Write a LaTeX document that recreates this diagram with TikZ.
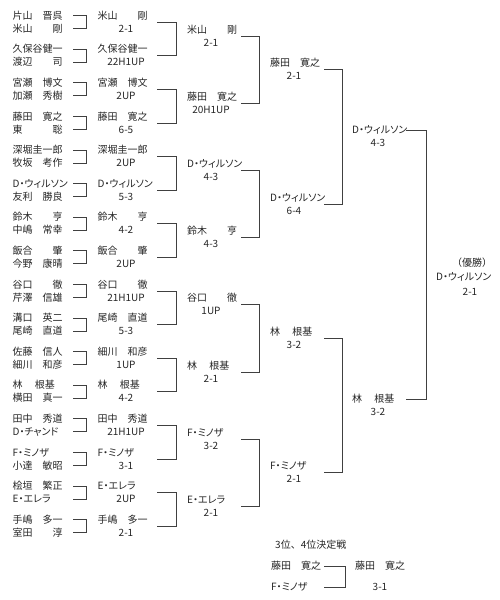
\documentclass[tikz,border=0pt]{standalone}
\usepackage{fontspec}
\setmainfont{Noto Sans CJK JP}
\newfontfamily\kn{Noto Sans CJK JP}[RawFeature=+palt]
\newcommand{\brkt}[4]{\draw[brk] (#1 -| #3,0) -| (#4,0 |- #2) -- (#2 -| #3,0);}
\newcommand{\duel}[4]{\node[nm] (#1a) at (12.5,#2-6.5) {#3};
  \node[nm] (#1b) at (12.5,#2+6.5) {#4};
  \brkt{#1a}{#1b}{73}{86}}
\newcommand{\winner}[6]{\coordinate (#1) at (#2,#3);
  \node[nm] (#1n) at (#2,#3-6.5) {#4};
  \node[sc] (#1s) at (#5,#3+6.5) {#6};}

\begin{document}
\begin{tikzpicture}[x=1pt,y=-1pt,
  every node/.style={font=\fontsize{10}{12}\selectfont, text=black!85},
  nm/.style={anchor=west, inner sep=0pt, text height=.86em, text depth=.1em},
  sc/.style={inner sep=0pt, text height=.86em, text depth=.1em},
  brk/.style={draw=black!75, line width=0.6pt}]
\useasboundingbox (0,0) rectangle (500,600);
\duel{p1}{22}{片山　晋呉}{米山　　剛}
\duel{p2}{55.6}{久保谷健一}{渡辺　　司}
\duel{p3}{89.2}{宮瀬　博文}{加瀬　秀樹}
\duel{p4}{122.8}{藤田　寛之}{東　　　聡}
\duel{p5}{156.4}{深堀圭一郎}{牧坂　考作}
\duel{p6}{190}{{\kn D・ウィルソン}}{友利　勝良}
\duel{p7}{223.6}{鈴木　　亨}{中嶋　常幸}
\duel{p8}{257.2}{飯合　　肇}{今野　康晴}
\duel{p9}{290.8}{谷口　　徹}{芹澤　信雄}
\duel{p10}{324.4}{溝口　英二}{尾崎　直道}
\duel{p11}{358}{佐藤　信人}{細川　和彦}
\duel{p12}{391.6}{林　 根基}{横田　真一}
\duel{p13}{425.2}{田中　秀道}{{\kn D・チャンド}}
\duel{p14}{458.8}{{\kn F・ミノザ}}{小達　敏昭}
\duel{p15}{492.4}{桧垣　繁正}{{\kn E・エレラ}}
\duel{p16}{526}{手嶋　多一}{室田　　淳}
\winner{s1}{97.5}{22}{米山　　剛}{126}{2-1}
\winner{s2}{97.5}{55.6}{久保谷健一}{126}{22H1UP}
\winner{s3}{97.5}{89.2}{宮瀬　博文}{126}{2UP}
\winner{s4}{97.5}{122.8}{藤田　寛之}{126}{6-5}
\winner{s5}{97.5}{156.4}{深堀圭一郎}{126}{2UP}
\winner{s6}{97.5}{190}{{\kn D・ウィルソン}}{126}{5-3}
\winner{s7}{97.5}{223.6}{鈴木　　亨}{126}{4-2}
\winner{s8}{97.5}{257.2}{飯合　　肇}{126}{2UP}
\winner{s9}{97.5}{290.8}{谷口　　徹}{126}{21H1UP}
\winner{s10}{97.5}{324.4}{尾崎　直道}{126}{5-3}
\winner{s11}{97.5}{358}{細川　和彦}{126}{1UP}
\winner{s12}{97.5}{391.6}{林　 根基}{126}{4-2}
\winner{s13}{97.5}{425.2}{田中　秀道}{126}{21H1UP}
\winner{s14}{97.5}{458.8}{{\kn F・ミノザ}}{126}{3-1}
\winner{s15}{97.5}{492.4}{{\kn E・エレラ}}{126}{2UP}
\winner{s16}{97.5}{526}{手嶋　多一}{126}{2-1}
\brkt{s1}{s2}{157}{176}
\brkt{s3}{s4}{157}{176}
\brkt{s5}{s6}{157}{176}
\brkt{s7}{s8}{157}{176}
\brkt{s9}{s10}{157}{176}
\brkt{s11}{s12}{157}{176}
\brkt{s13}{s14}{157}{176}
\brkt{s15}{s16}{157}{176}
\winner{t1}{187}{35.8}{米山　　剛}{211}{2-1}
\winner{t2}{187}{103}{藤田　寛之}{211}{20H1UP}
\winner{t3}{187}{170.2}{{\kn D・ウィルソン}}{211}{4-3}
\winner{t4}{187}{237.4}{鈴木　　亨}{211}{4-3}
\winner{t5}{187}{304.6}{谷口　　徹}{211}{1UP}
\winner{t6}{187}{371.8}{林　 根基}{211}{2-1}
\winner{t7}{187}{439}{{\kn F・ミノザ}}{211}{3-2}
\winner{t8}{187}{506.2}{{\kn E・エレラ}}{211}{2-1}
\brkt{t1}{t2}{241}{259}
\brkt{t3}{t4}{241}{259}
\brkt{t5}{t6}{241}{259}
\brkt{t7}{t8}{241}{259}
\winner{u1}{270}{69.4}{藤田　寛之}{294}{2-1}
\winner{u2}{270}{203.8}{{\kn D・ウィルソン}}{294}{6-4}
\winner{u3}{270}{338.2}{林　 根基}{294}{3-2}
\winner{u4}{270}{472.6}{{\kn F・ミノザ}}{294}{2-1}
\brkt{u1}{u2}{324}{342}
\brkt{u3}{u4}{324}{342}
\winner{v1}{352}{136.6}{{\kn D・ウィルソン}}{378}{4-3}
\winner{v2}{352}{405.4}{林　 根基}{378}{3-2}
\brkt{v1n}{v2n}{406}{426}
\node[sc] (champh) at (472,263) {（優勝）};
\node[nm] (champn) at (436,277) {\kn D・ウィルソン};
\node[sc] (champs) at (470,292) {2-1};
\node[nm] (third) at (275,545) {3位、4位決定戦};
\node[nm] (th1) at (271,566) {藤田　寛之};
\node[nm] (th2) at (271,587) {\kn F・ミノザ};
\brkt{th1}{th2}{324}{345}
\node[nm] (thw) at (355,566) {藤田　寛之};
\node[sc] (thws) at (380,587) {3-1};
\end{tikzpicture}
\end{document}
